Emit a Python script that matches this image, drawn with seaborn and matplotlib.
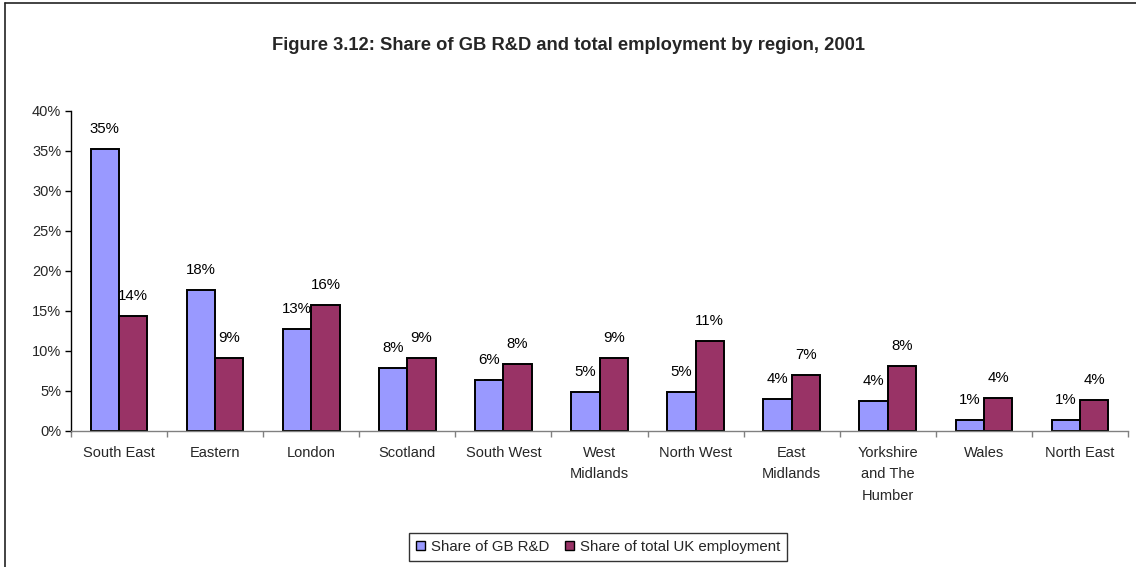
import matplotlib
matplotlib.use("Agg")
import matplotlib.pyplot as plt
from matplotlib.lines import Line2D
from matplotlib.ticker import FixedLocator, PercentFormatter
import seaborn as sns
import pandas as pd

# Regional shares, per cent
regions = ["South East", "Eastern", "London", "Scotland", "South West",
           "West\nMidlands", "North West", "East\nMidlands",
           "Yorkshire\nand The\nHumber", "Wales", "North East"]
rd_share = [35.25, 17.6, 12.75, 7.9, 6.4, 4.9, 4.9, 4.0, 3.75, 1.4, 1.4]
emp_share = [14.4, 9.1, 15.75, 9.1, 8.4, 9.1, 11.25, 7.0, 8.1, 4.1, 3.9]
series_names = ["Share of GB R&D", "Share of total UK employment"]
colors = ["#9999FF", "#993366"]
title = "Figure 3.12: Share of GB R&D and total employment by region, 2001"

df = pd.DataFrame({
    "region": regions * 2,
    "share": rd_share + emp_share,
    "series": [series_names[0]] * len(regions) + [series_names[1]] * len(regions),
})

sns.set_theme(style="white")
plt.rcParams["font.family"] = ["Liberation Sans", "DejaVu Sans"]

fig = plt.figure(figsize=(11.36, 5.67), dpi=100)
ax = fig.add_axes([71 / 1136, 1 - 431 / 567, (1128 - 71) / 1136, 320 / 567])

sns.barplot(data=df, x="region", y="share", hue="series", order=regions,
            hue_order=series_names, palette=colors, width=0.59,
            edgecolor="black", linewidth=1.4, saturation=1, ax=ax)

ax.set_ylim(0, 40)
ax.set_xlim(-0.5, len(regions) - 0.5)
ax.set_yticks(range(0, 41, 5))
ax.yaxis.set_major_formatter(PercentFormatter(decimals=0))
ax.set_xlabel("")
ax.set_ylabel("")

# Value labels above each bar
for container in ax.containers:
    for bar in container:
        h = bar.get_height()
        ax.annotate(f"{h:.0f}%", (bar.get_x() + bar.get_width() / 2, h),
                    xytext=(0, 14.5), textcoords="offset points",
                    ha="center", va="center", fontsize=10.8, color="black")

# Axes styling
for side in ["top", "right"]:
    ax.spines[side].set_visible(False)
ax.spines["left"].set_color("black")
ax.spines["left"].set_linewidth(1.0)
ax.spines["bottom"].set_color("#808080")
ax.spines["bottom"].set_linewidth(1.0)

ax.tick_params(axis="y", which="major", direction="out", length=4, width=1,
               color="black", labelsize=10.5, pad=3, left=True)
ax.tick_params(axis="x", which="major", length=0, labelsize=10.5, pad=11)
ax.xaxis.set_minor_locator(FixedLocator([i - 0.5 for i in range(len(regions) + 1)]))
ax.tick_params(axis="x", which="minor", direction="out", length=4, width=1,
               color="#808080", bottom=True)
for lbl in ax.get_xticklabels():
    lbl.set_linespacing(1.65)
    lbl.set_verticalalignment("top")

ax.get_legend().remove()
handles, labels = ax.get_legend_handles_labels()
leg = fig.legend(handles, labels, loc="center", bbox_to_anchor=(598 / 1136, 1 - 547 / 567),
                 ncol=2, frameon=True, fancybox=False, fontsize=10.8,
                 handlelength=0.6, handleheight=0.6, handletextpad=0.4,
                 columnspacing=1.0, borderpad=0.45, borderaxespad=0)
leg.get_frame().set_edgecolor("black")
leg.get_frame().set_linewidth(1.0)
for h in leg.legend_handles:
    h.set_edgecolor("black")
    h.set_linewidth(1.0)

fig.text(0.5, 1 - 45 / 567, title, ha="center", va="center", fontsize=13.2,
         fontweight="bold", family=["Liberation Sans Narrow", "Liberation Sans", "DejaVu Sans"])

# Chart-area frame (top and left edges)
fig.add_artist(Line2D([5 / 1136, 1.0], [1 - 3 / 567, 1 - 3 / 567],
                      transform=fig.transFigure, color="#222222", linewidth=1.2))
fig.add_artist(Line2D([5 / 1136, 5 / 1136], [0.0, 1 - 3 / 567],
                      transform=fig.transFigure, color="#222222", linewidth=1.2))

fig.savefig("out.png", dpi=100, facecolor="white")
